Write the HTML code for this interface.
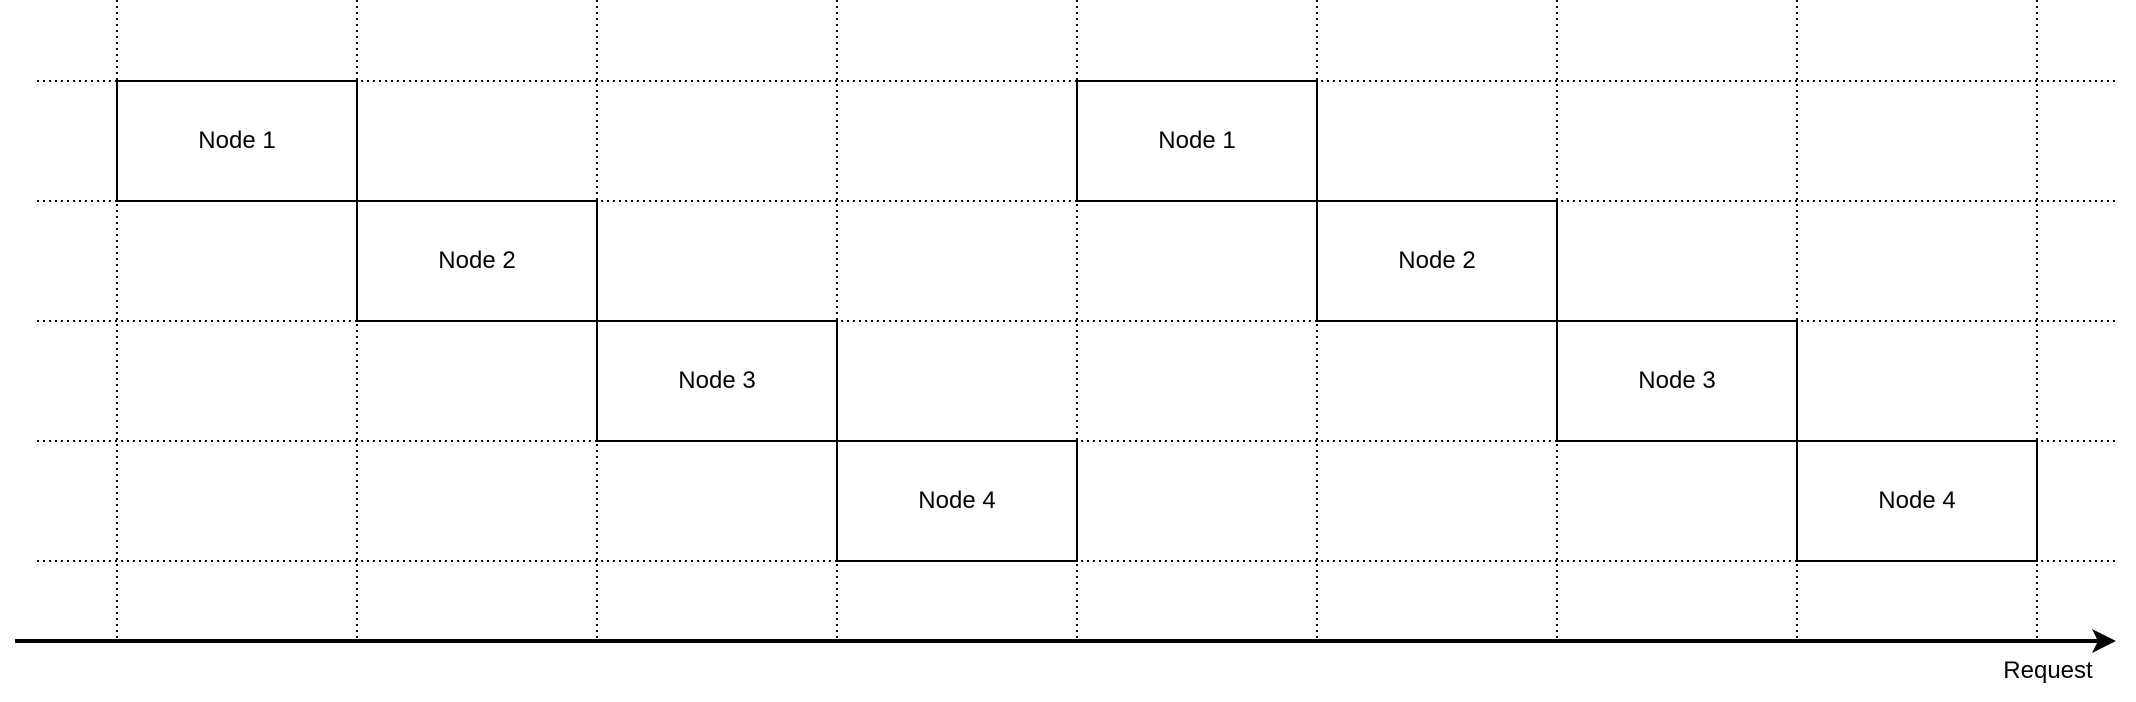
<!DOCTYPE html>
<html><head><meta charset="utf-8"><style>
html,body{margin:0;padding:0;background:#fff;}
svg{display:block;}
text{font-family:"Liberation Sans",sans-serif;font-size:24px;fill:#000;}
</style></head><body>
<svg width="2136" height="702" viewBox="0 0 2136 702" xmlns="http://www.w3.org/2000/svg">
<g stroke="#000" stroke-width="2" stroke-dasharray="2 4" fill="none">
<line x1="117" y1="0" x2="117" y2="640"/>
<line x1="357" y1="0" x2="357" y2="640"/>
<line x1="597" y1="0" x2="597" y2="640"/>
<line x1="837" y1="0" x2="837" y2="640"/>
<line x1="1077" y1="0" x2="1077" y2="640"/>
<line x1="1317" y1="0" x2="1317" y2="640"/>
<line x1="1557" y1="0" x2="1557" y2="640"/>
<line x1="1797" y1="0" x2="1797" y2="640"/>
<line x1="2037" y1="0" x2="2037" y2="640"/>
<line x1="37" y1="81" x2="2116" y2="81"/>
<line x1="37" y1="201" x2="2116" y2="201"/>
<line x1="37" y1="321" x2="2116" y2="321"/>
<line x1="37" y1="441" x2="2116" y2="441"/>
<line x1="37" y1="561" x2="2116" y2="561"/>
</g>
<g stroke="#000" stroke-width="2" fill="#fff">
<rect x="117" y="81" width="240" height="120"/>
<rect x="357" y="201" width="240" height="120"/>
<rect x="597" y="321" width="240" height="120"/>
<rect x="837" y="441" width="240" height="120"/>
<rect x="1077" y="81" width="240" height="120"/>
<rect x="1317" y="201" width="240" height="120"/>
<rect x="1557" y="321" width="240" height="120"/>
<rect x="1797" y="441" width="240" height="120"/>
</g>
<g text-anchor="middle">
<text x="237" y="148">Node 1</text>
<text x="477" y="268">Node 2</text>
<text x="717" y="388">Node 3</text>
<text x="957" y="508">Node 4</text>
<text x="1197" y="148">Node 1</text>
<text x="1437" y="268">Node 2</text>
<text x="1677" y="388">Node 3</text>
<text x="1917" y="508">Node 4</text>
<text x="2048" y="678">Request</text>
</g>
<line x1="15" y1="641" x2="2100" y2="641" stroke="#000" stroke-width="4"/>
<polygon points="2116,641 2092,629 2098,641 2092,653" fill="#000"/>
</svg>
</body></html>
